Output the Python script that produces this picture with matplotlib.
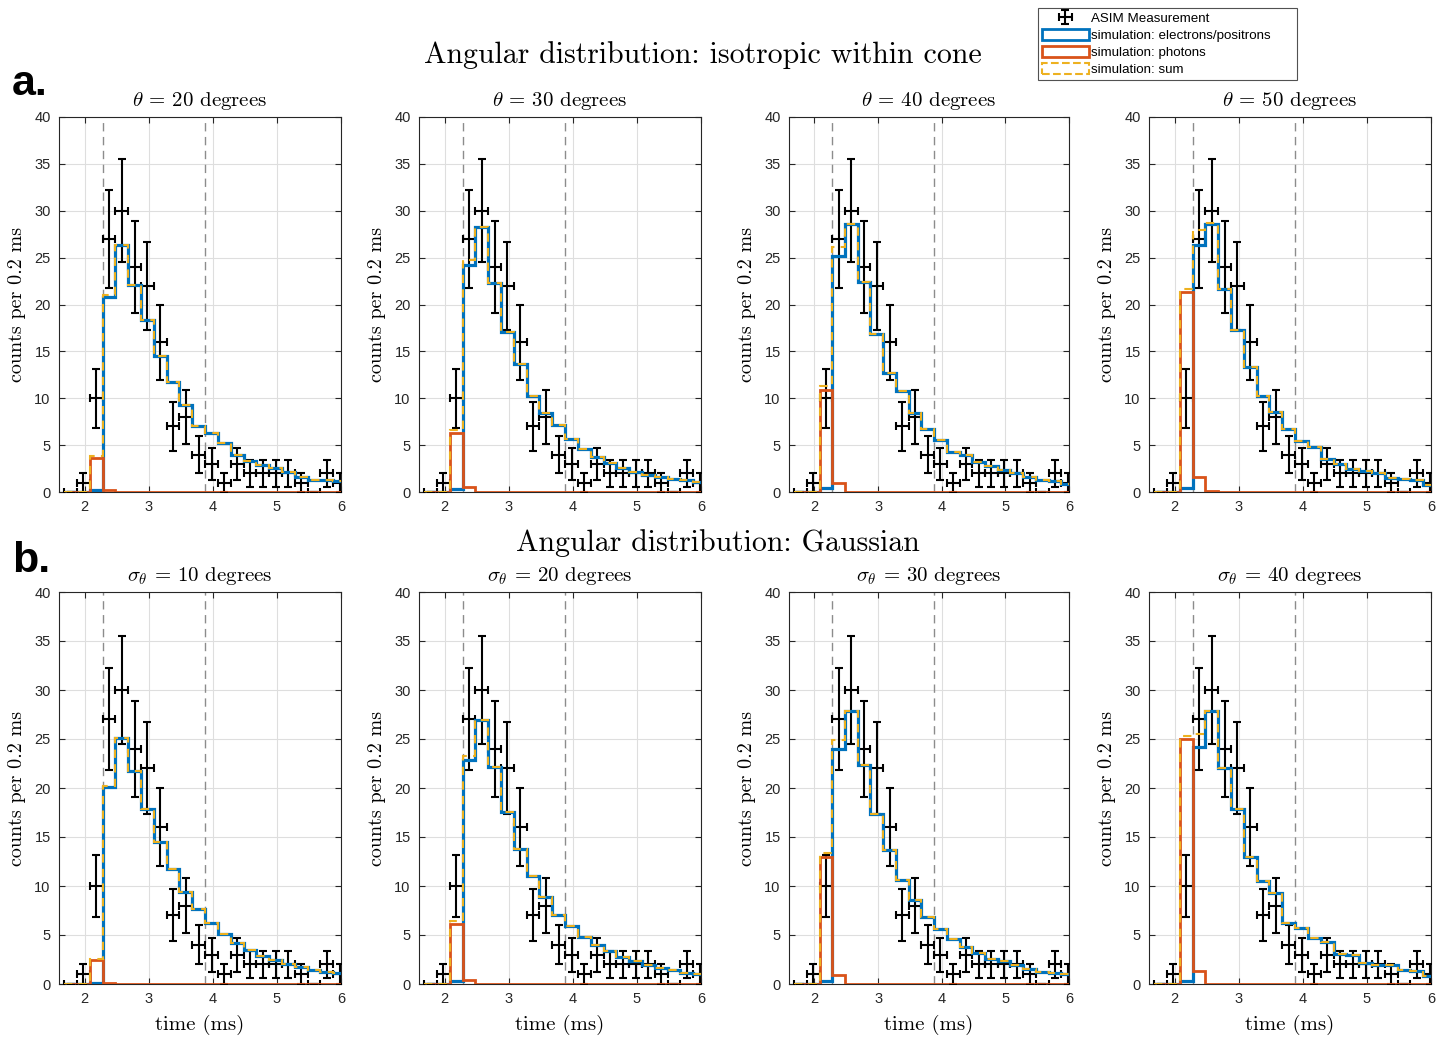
import numpy as np
import matplotlib
matplotlib.use("Agg")
import matplotlib.pyplot as plt
from matplotlib.patches import Patch

plt.rcParams["mathtext.fontset"] = "cm"
plt.rcParams["font.family"] = ["Liberation Sans", "DejaVu Sans"]

# ASIM measurement (counts per 0.2 ms bin)
meas_centers = np.round(1.78 + 0.2 * np.arange(22), 2)
meas_counts = [0, 1, 10, 27, 30, 24, 22, 16, 7, 8, 4, 3, 1, 3, 2, 2, 2, 2, 1, 0, 2, 1]

# simulation bins (edges 1.68 .. 6.08)
sim_edges = np.round(1.68 + 0.2 * np.arange(23), 2)

# a. isotropic within cone
cone_labels = ["20", "30", "40", "50"]
cone_elec = [
    [0, 0, 0.2, 20.8, 26.4, 22.1, 18.3, 14.5, 11.7, 9.3, 7.0, 6.25, 5.2, 3.9, 3.3, 2.9, 2.6, 2.1, 1.6, 1.3, 1.3, 1.2],
    [0, 0, 0.35, 24.2, 28.3, 22.3, 17.1, 13.7, 10.25, 8.4, 7.1, 5.7, 4.6, 3.75, 3.1, 2.6, 2.1, 1.8, 1.6, 1.4, 1.25, 1.1],
    [0, 0, 0.45, 25.2, 28.6, 22.4, 16.9, 12.7, 10.8, 8.4, 6.7, 5.6, 4.3, 3.9, 3.2, 2.75, 2.4, 2.0, 1.6, 1.3, 1.15, 0.9],
    [0, 0, 0.4, 26.4, 28.6, 21.7, 17.3, 13.3, 10.2, 8.5, 6.7, 5.4, 4.8, 3.5, 3.0, 2.5, 2.25, 2.0, 1.5, 1.4, 1.25, 0.8],
]
cone_phot = [
    [0, 0, 3.6, 0.25] + [0] * 18,
    [0, 0, 6.3, 0.5] + [0] * 18,
    [0, 0, 10.9, 0.95] + [0] * 18,
    [0, 0, 21.3, 1.6, 0.1] + [0] * 17,
]

# b. Gaussian
gauss_labels = ["10", "20", "30", "40"]
gauss_elec = [
    [0, 0, 0.15, 20.1, 25.1, 21.7, 17.9, 14.5, 11.7, 9.35, 7.65, 6.2, 5.1, 4.15, 3.5, 2.9, 2.4, 2.05, 1.75, 1.45, 1.25, 1.1],
    [0, 0, 0.35, 22.9, 26.9, 22.1, 17.6, 13.8, 11.0, 8.9, 7.05, 5.95, 4.8, 4.0, 3.35, 2.8, 2.35, 1.95, 1.65, 1.45, 1.15, 1.0],
    [0, 0, 0.35, 24.0, 27.9, 22.3, 17.3, 13.7, 10.6, 8.6, 6.8, 5.6, 4.6, 3.8, 3.2, 2.6, 2.3, 1.9, 1.5, 1.25, 1.15, 1.0],
    [0, 0, 0.3, 24.2, 27.9, 22.0, 17.9, 13.0, 10.5, 9.25, 6.2, 5.75, 4.7, 4.25, 3.1, 3.0, 2.1, 1.9, 1.95, 1.45, 1.3, 0.85],
]
gauss_phot = [
    [0, 0, 2.45, 0.15] + [0] * 18,
    [0, 0, 6.1, 0.4] + [0] * 18,
    [0, 0, 13.0, 0.9] + [0] * 18,
    [0, 0, 25.0, 1.35] + [0] * 18,
]

window = [2.28, 3.88]

BLUE = "#0072BD"
ORANGE = "#D95319"
YELLOW = "#EDB120"
DARK = "#262626"
SERIF = "cmr10"

W, H = 1443, 1038
fig = plt.figure(figsize=(W / 100, H / 100), dpi=100)


def px_axes(left, top, right, bottom):
    return fig.add_axes([left / W, 1 - bottom / H, (right - left) / W, (bottom - top) / H])


def draw_panel(ax, elec, phot, title, xlabel):
    ax.grid(True, color="#dedede", linewidth=0.8)
    ax.set_axisbelow(True)
    for xv in window:
        ax.axvline(xv, color="#8c8c8c", linestyle=(0, (6, 4)), linewidth=1.0)
    counts = np.array(meas_counts, dtype=float)
    eb = ax.errorbar(meas_centers, counts, yerr=np.sqrt(counts), xerr=0.1, fmt="none",
                     ecolor="black", elinewidth=1.5, capsize=3, capthick=1.5, zorder=3)
    e = np.array(elec)
    p = np.array(phot)
    ax.stairs(e, sim_edges, baseline=None, color=BLUE, linewidth=2.3, zorder=4)
    ax.stairs(p, sim_edges, baseline=None, color=ORANGE, linewidth=2.0, zorder=5)
    ax.stairs(e + p, sim_edges, baseline=None, color=YELLOW, linewidth=1.5,
              linestyle=(0, (4, 3)), zorder=6)
    ax.set_xlim(1.6, 6)
    ax.set_ylim(0, 40)
    ax.set_xticks([2, 3, 4, 5, 6])
    ax.set_yticks(np.arange(0, 41, 5))
    ax.tick_params(direction="in", top=True, right=True, length=4, width=0.8,
                   colors=DARK, labelsize=10.5, pad=6)
    for s in ax.spines.values():
        s.set_color(DARK)
        s.set_linewidth(0.8)
    ax.set_title(title, fontsize=15, family=SERIF, pad=8)
    ax.set_ylabel("counts per 0.2 ms", fontsize=14.5, family=SERIF, labelpad=6)
    if xlabel:
        ax.set_xlabel("time (ms)", fontsize=15, family=SERIF, labelpad=6)
    return eb


lefts = [59, 419, 789, 1149]
rights = [341, 701, 1069, 1431]

meas_handle = None
for i in range(4):
    ax = px_axes(lefts[i], 117, rights[i], 492)
    eb = draw_panel(ax, cone_elec[i], cone_phot[i],
                    r"$\theta$ = " + cone_labels[i] + " degrees", False)
    if meas_handle is None:
        meas_handle = eb

for i in range(4):
    ax = px_axes(lefts[i], 592, rights[i], 984)
    draw_panel(ax, gauss_elec[i], gauss_phot[i],
               r"$\sigma_\theta$ = " + gauss_labels[i] + " degrees", True)

fig.text(703 / W, 1 - 55 / H, "Angular distribution: isotropic within cone",
         family=SERIF, fontsize=21.5, ha="center", va="center")
fig.text(718 / W, 1 - 543 / H, "Angular distribution: Gaussian",
         family=SERIF, fontsize=21.5, ha="center", va="center")
fig.text(12 / W, 1 - 95 / H, "a.", fontsize=31, fontweight="bold", ha="left", va="baseline")
fig.text(12 / W, 1 - 572 / H, "b.", fontsize=31, fontweight="bold", ha="left", va="baseline")

# legend
handles = [
    meas_handle,
    Patch(facecolor="none", edgecolor=BLUE, linewidth=2),
    Patch(facecolor="none", edgecolor=ORANGE, linewidth=2),
    Patch(facecolor="none", edgecolor=YELLOW, linewidth=1.5, linestyle="--"),
]
labels = ["ASIM Measurement", "simulation: electrons/positrons      ",
          "simulation: photons", "simulation: sum"]
leg = fig.legend(handles, labels, loc="upper left",
                 bbox_to_anchor=(1038 / W, 1 - 8 / H), fontsize=9.6,
                 frameon=True, fancybox=False, edgecolor="#262626",
                 handlelength=3.5, handleheight=0.9, handletextpad=0.15,
                 labelspacing=0.28, borderpad=0.3, borderaxespad=0)
leg.get_frame().set_linewidth(0.8)

fig.savefig("out.png", dpi=100)
